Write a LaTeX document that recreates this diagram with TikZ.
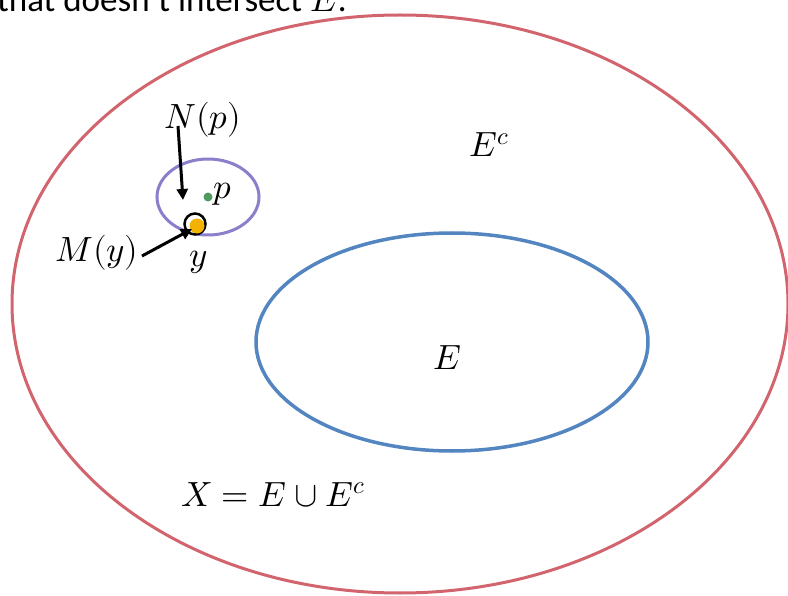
\documentclass[tikz,border=0pt]{standalone}
\usepackage{fontspec}
\usepackage{unicode-math}
\setmainfont{Carlito}
\setmathfont{Latin Modern Math}
\usetikzlibrary{arrows.meta}
\definecolor{outerred}{HTML}{D2646E}
\definecolor{eblue}{HTML}{5385C0}
\definecolor{npurple}{HTML}{8C7ECB}
\definecolor{pgreen}{HTML}{4E9A60}
\definecolor{yorange}{HTML}{F2B300}
\tikzset{
  lbl/.style={inner sep=0pt, font=\fontsize{35}{42}\selectfont},
  ptr/.style={line width=3pt, -{Triangle[length=11pt,width=11pt]}},
}
\begin{document}
\begin{tikzpicture}[x=1pt,y=-1pt]
\useasboundingbox (0,0) rectangle (788,596);
\clip (0,0) rectangle (788,596);
% top cut-off text
\node[anchor=base west, inner sep=0pt, font=\fontsize{35}{42}\selectfont] (toptext) at (-3,12) {that doesn't intersect $E$.};
% outer set X
\draw[outerred, line width=3pt] (400,304) ellipse [x radius=388, y radius=289];
% set E
\draw[eblue, line width=3.5pt] (452,342) ellipse [x radius=196, y radius=109];
% neighbourhood N(p)
\draw[npurple, line width=3pt] (208,197) ellipse [x radius=51, y radius=38];
% point p
\fill[pgreen] (208,197) circle (4.5);
\node[lbl, anchor=west] (p) at (213,194) {$p$};
% point y with M(y)
\draw[black, line width=2.5pt, fill=white] (195,224) circle (10.5);
\fill[yorange] (197,226) circle (7.5);
\coordinate (ydot) at (195,224);
\node[lbl] (y) at (199,262) {$y$};
% labels
\node[lbl] (Np) at (203,120) {$N(p)$};
\node[lbl] (My) at (97,253) {$M(y)$};
\node[lbl] (Ec) at (489,145) {$E^c$};
\node[lbl] (E) at (447,358) {$E$};
\node[lbl] (X) at (273,495) {$X = E \cup E^c$};
% arrows
\coordinate (a1s) at (178,126);
\coordinate (a1e) at (183,200);
\coordinate (a2s) at (142,256);
\coordinate (a2e) at (192,229);
\draw[ptr] (a1s) -- (a1e);
\draw[ptr] (a2s) -- (a2e);
\end{tikzpicture}
\end{document}
